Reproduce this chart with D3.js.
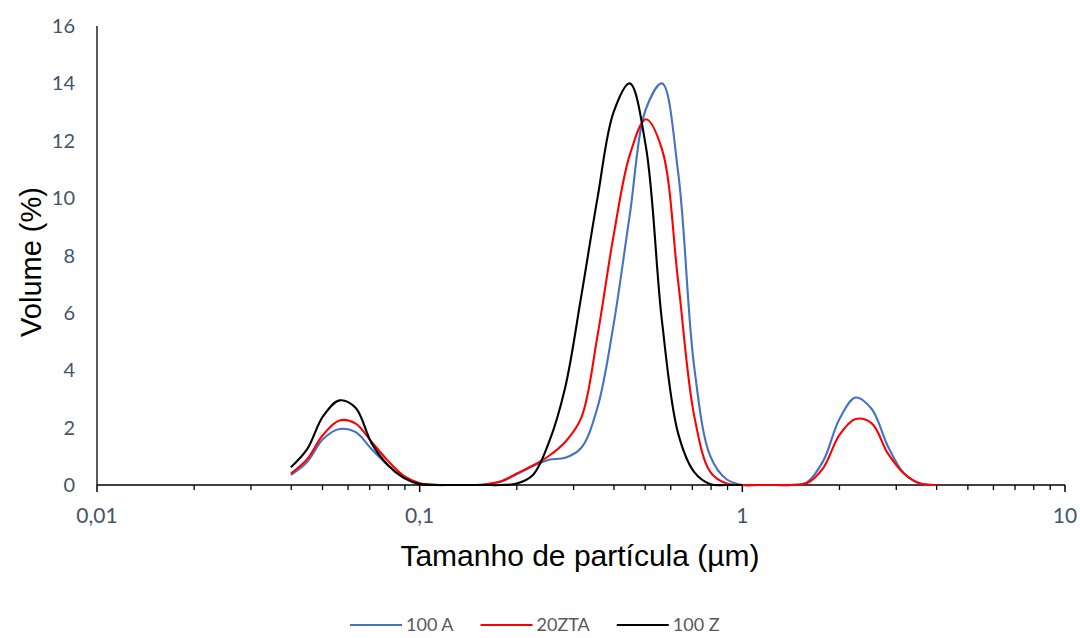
<!DOCTYPE html>
<html>
<head>
<meta charset="utf-8">
<script src="https://cdn.jsdelivr.net/npm/d3@7.9.0/dist/d3.min.js"></script>
<style>
  body { margin: 0; background: #fff; }
  svg { display: block; }
</style>
</head>
<body>
<svg id="chart" width="1080" height="638"></svg>
<script>
// particle size classes (µm)
const sizes = [0.0399, 0.0448, 0.0502, 0.0564, 0.0632, 0.0710, 0.0796, 0.0893, 0.1002, 0.1125,
  0.1262, 0.1416, 0.1589, 0.1783, 0.2000, 0.2244, 0.2518, 0.2825, 0.3170, 0.3557,
  0.3991, 0.4477, 0.5024, 0.5637, 0.6325, 0.7096, 0.7962, 0.8934, 1.002, 1.125,
  1.262, 1.416, 1.589, 1.783, 2.000, 2.244, 2.518, 2.825, 3.170, 3.557, 3.991];

const vol100A = [0.35, 0.8, 1.6, 1.95, 1.85, 1.25, 0.7, 0.25, 0.04, 0,
  0, 0, 0.02, 0.12, 0.38, 0.66, 0.88, 0.95, 1.3, 2.7,
  5.6, 9.4, 13.1, 14.0, 10.9, 4.1, 1.0, 0.2, 0, 0,
  0, 0, 0.1, 0.85, 2.3, 3.05, 2.65, 1.35, 0.4, 0.05, 0];

const vol20ZTA = [0.4, 0.9, 1.75, 2.25, 2.15, 1.5, 0.85, 0.32, 0.06, 0.01,
  0, 0, 0.02, 0.12, 0.4, 0.68, 1.02, 1.5, 2.35, 5.2,
  8.7, 11.5, 12.75, 11.7, 7.1, 2.4, 0.45, 0.05, 0, 0,
  0, 0, 0.07, 0.6, 1.75, 2.3, 2.15, 1.1, 0.4, 0.05, 0];

const vol100Z = [0.62, 1.25, 2.4, 2.95, 2.7, 1.45, 0.7, 0.25, 0.03, 0,
  0, 0, 0, 0, 0.05, 0.35, 1.5, 3.4, 6.6, 10.0,
  13.0, 14.0, 11.8, 5.7, 1.8, 0.45, 0.03, 0, 0];

const seriesNames = ['100 A', '20ZTA', '100 Z'];
const seriesColors = ['#4472C4', '#FF0000', '#000000'];
const seriesValues = [vol100A, vol20ZTA, vol100Z];

const xTicks = [0.01, 0.1, 1, 10];
const xTickLabels = ['0,01', '0,1', '1', '10'];
const yTicks = [0, 2, 4, 6, 8, 10, 12, 14, 16];

const svg = d3.select('#chart');
const x = d3.scaleLog().domain([0.01, 10]).range([97, 1065]);
const y = d3.scaleLinear().domain([0, 16]).range([485, 26]);

const labelFont = 'Lato, "Open Sans", sans-serif';
const labelColor = '#44546A';

// minor ticks on the log axis
const minorTicks = [];
for (let d = 0.01; d < 10; d *= 10) {
  for (let k = 2; k <= 9; k += 1) minorTicks.push(+(d * k).toPrecision(3));
}

svg.append('g')
  .selectAll('line')
  .data(minorTicks)
  .join('line')
  .attr('x1', (d) => x(d)).attr('x2', (d) => x(d))
  .attr('y1', 485).attr('y2', 490)
  .attr('stroke', '#000').attr('stroke-width', 1.3);

svg.append('g')
  .selectAll('line')
  .data(xTicks)
  .join('line')
  .attr('x1', (d) => x(d)).attr('x2', (d) => x(d))
  .attr('y1', 485).attr('y2', 492)
  .attr('stroke', '#000').attr('stroke-width', 1.5);

// axis lines
svg.append('line')
  .attr('x1', x(0.01)).attr('x2', x(10))
  .attr('y1', y(0)).attr('y2', y(0))
  .attr('stroke', '#000').attr('stroke-width', 1.5);

svg.append('line')
  .attr('x1', x(0.01)).attr('x2', x(0.01))
  .attr('y1', y(16)).attr('y2', y(0))
  .attr('stroke', '#000').attr('stroke-width', 1.3);

svg.append('g')
  .selectAll('text')
  .data(xTicks)
  .join('text')
  .attr('x', (d) => x(d))
  .attr('y', 523)
  .attr('text-anchor', 'middle')
  .attr('font-family', labelFont)
  .attr('font-size', 21)
  .attr('fill', labelColor)
  .text((d, i) => xTickLabels[i]);

svg.append('g')
  .selectAll('text')
  .data(yTicks)
  .join('text')
  .attr('x', 75)
  .attr('y', (d) => y(d) + 7)
  .attr('text-anchor', 'end')
  .attr('font-family', labelFont)
  .attr('font-size', 20)
  .attr('fill', labelColor)
  .text((d) => d);

// axis titles
svg.append('text')
  .attr('transform', 'translate(41,262) rotate(-90)')
  .attr('text-anchor', 'middle')
  .attr('font-family', 'Liberation Sans, Arial, sans-serif')
  .attr('font-size', 29)
  .attr('fill', '#000')
  .text('Volume (%)');

svg.append('text')
  .attr('x', 580)
  .attr('y', 566)
  .attr('text-anchor', 'middle')
  .attr('font-family', 'Liberation Sans, Arial, sans-serif')
  .attr('font-size', 30)
  .attr('fill', '#000')
  .text('Tamanho de partícula (µm)');

// series, smoothed like the spreadsheet lines
const line = d3.line()
  .x((d) => x(d[0]))
  .y((d) => y(d[1]))
  .curve(d3.curveCatmullRom.alpha(0.5));

seriesValues.forEach((values, i) => {
  const points = values.map((v, j) => [sizes[j], v]);
  svg.append('path')
    .datum(points)
    .attr('d', line)
    .attr('fill', 'none')
    .attr('stroke', seriesColors[i])
    .attr('stroke-width', 2.1)
    .attr('stroke-linejoin', 'round');
});

// legend along the bottom edge
const legend = svg.append('g');
let lx = 350;
seriesNames.forEach((name, i) => {
  legend.append('line')
    .attr('x1', lx).attr('x2', lx + 52)
    .attr('y1', 625).attr('y2', 625)
    .attr('stroke', seriesColors[i])
    .attr('stroke-width', 2.1);
  const t = legend.append('text')
    .attr('x', lx + 56)
    .attr('y', 631)
    .attr('font-family', labelFont)
    .attr('font-size', 18)
    .attr('fill', '#595959')
    .text(name);
  lx += 56 + t.node().getComputedTextLength() + 27;
});
</script>
</body>
</html>
